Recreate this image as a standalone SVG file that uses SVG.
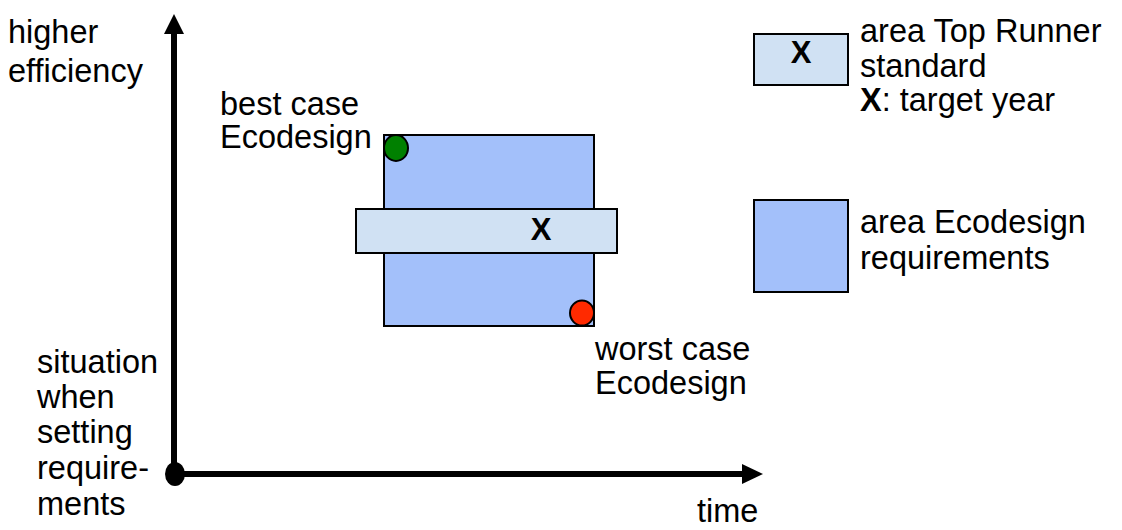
<svg xmlns="http://www.w3.org/2000/svg" width="1122" height="530" viewBox="0 0 1122 530">
<style>
text{font-family:"Liberation Sans",Arial,sans-serif;font-size:32.5px;fill:#000}
.b{font-weight:bold}
.eco{fill:#A3C0FA;stroke:#000;stroke-width:2}
.tr{fill:#D0E1F3;stroke:#000;stroke-width:2}
.ax{stroke:#000;stroke-width:6;fill:none}
</style>
<rect width="1122" height="530" fill="#fff"/>
<g id="connectors">
<line class="ax" x1="174" y1="474" x2="174" y2="32"/>
<polygon points="174,14 164,34 184,34" fill="#000"/>
<line class="ax" x1="174" y1="474" x2="744" y2="474"/>
<polygon points="763,474 742,464 742,484" fill="#000"/>
</g>
<g id="origin"><ellipse cx="175" cy="474" rx="10" ry="12" fill="#000"/></g>
<g id="ecodesign-area"><rect class="eco" x="384" y="135" width="210" height="191"/></g>
<g id="top-runner-area"><rect class="tr" x="356" y="209" width="261" height="44"/>
<text class="b" x="541" y="240" text-anchor="middle" style="font-size:31px">X</text></g>
<g id="best-case"><ellipse cx="396" cy="148" rx="12" ry="13" fill="#008000" stroke="#000" stroke-width="2"/></g>
<g id="worst-case"><ellipse cx="582" cy="313" rx="12" ry="12.5" fill="#FF2A00" stroke="#000" stroke-width="2"/></g>
<g id="legend-top-runner"><rect class="tr" x="754" y="34" width="94" height="51"/>
<text class="b" x="801" y="63" text-anchor="middle" style="font-size:31px">X</text></g>
<g id="legend-ecodesign"><rect class="eco" x="754" y="200" width="94" height="92"/></g>
<g id="labels">
<text x="8" y="43">higher</text>
<text x="8" y="82">efficiency</text>
<text x="220" y="115">best case</text>
<text x="220" y="148">Ecodesign</text>
<text x="595" y="360">worst case</text>
<text x="595" y="394">Ecodesign</text>
<text x="37" y="373">situation</text>
<text x="37" y="408">when</text>
<text x="37" y="443">setting</text>
<text x="37" y="479">require-</text>
<text x="37" y="515">ments</text>
<text x="697" y="522">time</text>
<text x="860" y="42">area Top Runner</text>
<text x="860" y="77">standard</text>
<text x="860" y="111"><tspan class="b">X</tspan>: target year</text>
<text x="860" y="233">area Ecodesign</text>
<text x="860" y="269">requirements</text>
</g>
</svg>
